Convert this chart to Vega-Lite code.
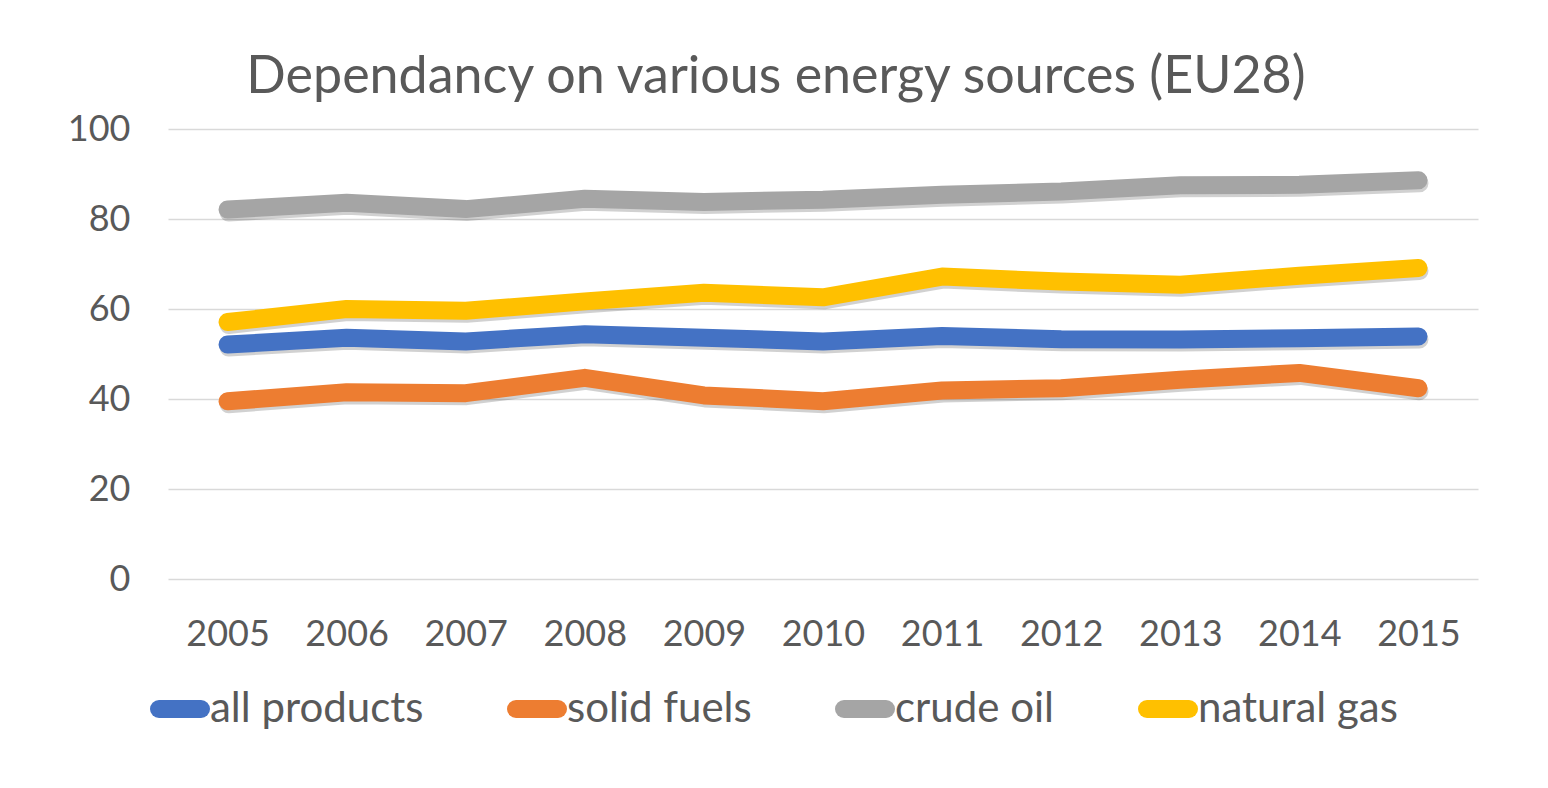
{
  "$schema": "https://vega.github.io/schema/vega-lite/v6.json",
  "width": 1310,
  "height": 450,
  "autosize": {"type": "none"},
  "padding": {"left": 168, "top": 129, "right": 70, "bottom": 209},
  "background": "white",
  "config": {"view": {"stroke": null}},
  "title": {
    "text": "Dependancy on various energy sources (EU28)",
    "font": "Lato",
    "fontSize": 52,
    "fontWeight": "normal",
    "color": "#595959",
    "anchor": "middle",
    "dx": -47,
    "offset": 7
  },
  "data": {
    "values": [
      {"year": "2005", "series": "all products", "value": 52.1},
      {"year": "2006", "series": "all products", "value": 53.6},
      {"year": "2007", "series": "all products", "value": 52.8},
      {"year": "2008", "series": "all products", "value": 54.4},
      {"year": "2009", "series": "all products", "value": 53.6},
      {"year": "2010", "series": "all products", "value": 52.8},
      {"year": "2011", "series": "all products", "value": 54.0},
      {"year": "2012", "series": "all products", "value": 53.3},
      {"year": "2013", "series": "all products", "value": 53.2},
      {"year": "2014", "series": "all products", "value": 53.5},
      {"year": "2015", "series": "all products", "value": 53.9},
      {"year": "2005", "series": "solid fuels", "value": 39.5},
      {"year": "2006", "series": "solid fuels", "value": 41.5},
      {"year": "2007", "series": "solid fuels", "value": 41.3},
      {"year": "2008", "series": "solid fuels", "value": 44.7},
      {"year": "2009", "series": "solid fuels", "value": 40.8},
      {"year": "2010", "series": "solid fuels", "value": 39.5},
      {"year": "2011", "series": "solid fuels", "value": 41.9},
      {"year": "2012", "series": "solid fuels", "value": 42.4},
      {"year": "2013", "series": "solid fuels", "value": 44.3},
      {"year": "2014", "series": "solid fuels", "value": 45.8},
      {"year": "2015", "series": "solid fuels", "value": 42.4},
      {"year": "2005", "series": "crude oil", "value": 82.1},
      {"year": "2006", "series": "crude oil", "value": 83.6},
      {"year": "2007", "series": "crude oil", "value": 82.2},
      {"year": "2008", "series": "crude oil", "value": 84.5},
      {"year": "2009", "series": "crude oil", "value": 83.8},
      {"year": "2010", "series": "crude oil", "value": 84.3},
      {"year": "2011", "series": "crude oil", "value": 85.4},
      {"year": "2012", "series": "crude oil", "value": 86.1},
      {"year": "2013", "series": "crude oil", "value": 87.5},
      {"year": "2014", "series": "crude oil", "value": 87.6},
      {"year": "2015", "series": "crude oil", "value": 88.6},
      {"year": "2005", "series": "natural gas", "value": 57.1},
      {"year": "2006", "series": "natural gas", "value": 60.0},
      {"year": "2007", "series": "natural gas", "value": 59.6},
      {"year": "2008", "series": "natural gas", "value": 61.7},
      {"year": "2009", "series": "natural gas", "value": 63.6},
      {"year": "2010", "series": "natural gas", "value": 62.6},
      {"year": "2011", "series": "natural gas", "value": 67.2},
      {"year": "2012", "series": "natural gas", "value": 66.1},
      {"year": "2013", "series": "natural gas", "value": 65.4},
      {"year": "2014", "series": "natural gas", "value": 67.4},
      {"year": "2015", "series": "natural gas", "value": 69.1}
    ]
  },
  "encoding": {
    "x": {
      "field": "year",
      "type": "ordinal",
      "scale": {"type": "point", "padding": 0.5},
      "axis": {
        "title": null,
        "labelAngle": 0,
        "domain": false,
        "ticks": false,
        "tickSize": 0,
        "grid": false,
        "labelPadding": 38,
        "labelFont": "Lato",
        "labelFontSize": 36,
        "labelColor": "#595959"
      }
    },
    "y": {
      "field": "value",
      "type": "quantitative",
      "scale": {"domain": [0, 100], "nice": false},
      "axis": {
        "title": null,
        "values": [0, 20, 40, 60, 80, 100],
        "domain": false,
        "ticks": false,
        "tickSize": 0,
        "grid": true,
        "gridColor": "#D9D9D9",
        "gridWidth": 1.3,
        "labelPadding": 38,
        "labelFont": "Lato",
        "labelFontSize": 36,
        "labelColor": "#595959"
      }
    }
  },
  "layer": [
    {
      "mark": {"type": "line", "strokeWidth": 18, "color": "#000000", "opacity": 0.18, "yOffset": 3, "xOffset": 1, "strokeCap": "round", "strokeJoin": "round"},
      "encoding": {"detail": {"field": "series", "type": "nominal"}}
    },
    {
      "mark": {"type": "line", "strokeWidth": 18, "strokeCap": "round", "strokeJoin": "round"},
      "encoding": {
        "color": {
          "field": "series",
          "type": "nominal",
          "scale": {
            "domain": ["all products", "solid fuels", "crude oil", "natural gas"],
            "range": ["#4472C4", "#ED7D31", "#A5A5A5", "#FFC000"]
          },
          "legend": {
            "title": null,
            "orient": "none",
            "direction": "horizontal",
            "legendX": -18,
            "legendY": 550,
            "symbolType": "stroke",
            "symbolSize": 1764,
            "symbolStrokeWidth": 18,
            "columnPadding": 56,
            "labelOffset": 0,
            "labelFont": "Lato",
            "labelFontSize": 42,
            "labelColor": "#595959",
            "labelLimit": 400,
            "encoding": {"symbols": {"strokeCap": {"value": "round"}}}
          }
        }
      }
    }
  ]
}
